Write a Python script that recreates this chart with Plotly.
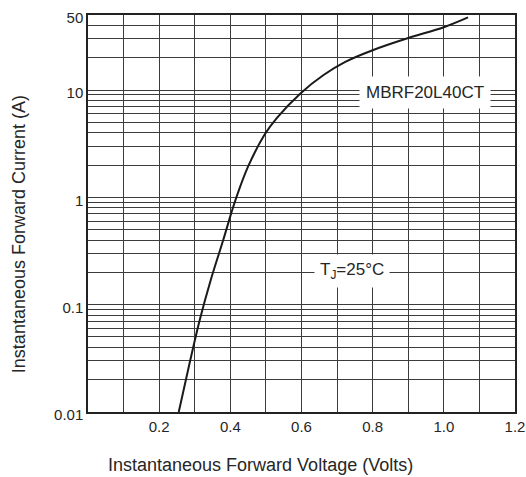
import plotly.graph_objects as go

# Forward voltage (V) and forward current (A)
voltage = [0.255, 0.285, 0.314, 0.345, 0.380, 0.403, 0.417, 0.450, 0.496, 0.531,
           0.597, 0.662, 0.723, 0.800, 0.900, 1.000, 1.068]
current = [0.010, 0.028, 0.072, 0.17, 0.40, 0.72, 1.0, 1.94, 3.83, 5.5,
           9.3, 13.8, 18.3, 23.5, 30.5, 38.5, 47.5]

x_tick_vals = [0.2, 0.4, 0.6, 0.8, 1.0, 1.2]
x_tick_text = ["0.2", "0.4", "0.6", "0.8", "1.0", "1.2"]
y_tick_vals = [0.01, 0.1, 1, 10, 50]
y_tick_text = ["0.01", "0.1", "1", "10", "50"]
y_minor_vals = [m * d for d in [0.01, 0.1, 1] for m in range(2, 10)] + [20, 30, 40]

x_title = "Instantaneous Forward Voltage (Volts)"
y_title = "Instantaneous Forward Current (A)"
part_label = "MBRF20L40CT"
temp_label = "T<sub>J</sub>=25°C"

FONT = "Liberation Sans, Arial, sans-serif"
GRID = "#3c3c3c"
TXT = "#262626"

fig = go.Figure()
fig.add_trace(go.Scatter(
    x=voltage, y=current, mode="lines",
    line=dict(color="#1a1a1a", width=2, shape="spline", smoothing=1.0),
    showlegend=False, hoverinfo="skip",
))

fig.update_layout(
    width=526, height=477,
    margin=dict(l=88, r=11, t=15, b=65),
    paper_bgcolor="white", plot_bgcolor="white",
    font=dict(family=FONT, size=15, color=TXT),
    xaxis=dict(
        range=[0, 1.2], tickvals=x_tick_vals, ticktext=x_tick_text,
        automargin=False, ticklabeloverflow="allow",
        showgrid=True, gridcolor=GRID, gridwidth=1,
        minor=dict(dtick=0.1, tick0=0, showgrid=True, gridcolor=GRID, gridwidth=1),
        showline=True, linecolor="#222", linewidth=1.5, mirror=True,
        ticks="", zeroline=False,
        tickfont=dict(size=15, color=TXT),
    ),
    yaxis=dict(
        type="log", range=[-2, 1.699],
        tickvals=y_tick_vals, ticktext=y_tick_text,
        automargin=False,
        showgrid=True, gridcolor=GRID, gridwidth=1,
        minor=dict(tickvals=y_minor_vals, showgrid=True, gridcolor=GRID, gridwidth=1, ticks=""),
        showline=True, linecolor="#222", linewidth=1.5, mirror=True,
        ticks="", zeroline=False, ticklabelshift=3,
        tickfont=dict(size=15, color=TXT),
    ),
    annotations=[
        dict(x=0.947, y=1, xref="x", yref="y", text=part_label, showarrow=False,
             font=dict(size=17, color=TXT, family=FONT), bgcolor="white",
             borderpad=6, yshift=-2),
        dict(x=0.742, y=-0.69, xref="x", yref="y", text=temp_label, showarrow=False,
             font=dict(size=17, color=TXT, family=FONT), bgcolor="white",
             borderpad=5),
        dict(x=0.405, y=-0.133, xref="paper", yref="paper", text=x_title, showarrow=False,
             xanchor="center", yanchor="middle",
             font=dict(size=18, color=TXT, family=FONT)),
        dict(x=-0.1616, y=0.448, xref="paper", yref="paper", text=y_title, showarrow=False,
             xanchor="center", yanchor="middle", textangle=-90,
             font=dict(size=18, color=TXT, family=FONT)),
    ],
)

fig.write_html(
    "out.html",
    config={"displayModeBar": False},
    post_script="document.body.style.margin='0';document.body.style.overflow='hidden';",
)
